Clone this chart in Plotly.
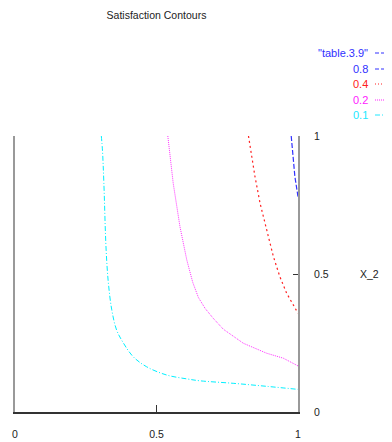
import plotly.graph_objects as go

# Contour level 0.1 (cyan, dash-dot)
x_01 = [0.305, 0.309, 0.314, 0.322, 0.330, 0.342, 0.359, 0.383, 0.418, 0.465, 0.536, 0.607, 0.654, 0.771, 0.889, 1.0]
y_01 = [1.0, 0.949, 0.83, 0.587, 0.467, 0.370, 0.297, 0.250, 0.200, 0.164, 0.134, 0.120, 0.113, 0.104, 0.093, 0.082]

# Contour level 0.2 (magenta, dotted)
x_02 = [0.540, 0.545, 0.559, 0.583, 0.607, 0.628, 0.648, 0.672, 0.700, 0.736, 0.807, 0.889, 0.948, 1.0]
y_02 = [1.0, 0.949, 0.829, 0.671, 0.551, 0.470, 0.415, 0.375, 0.340, 0.300, 0.249, 0.213, 0.195, 0.167]

# Contour level 0.4 (red, dotted)
x_04 = [0.825, 0.833, 0.848, 0.866, 0.889, 0.913, 0.936, 0.960, 1.0]
y_04 = [1.0, 0.949, 0.853, 0.756, 0.659, 0.563, 0.490, 0.430, 0.358]

# Contour level 0.8 (blue, dashed)
x_08 = [0.976, 0.981, 0.989, 1.0]
y_08 = [1.0, 0.949, 0.853, 0.78]

legend_labels = ['"table.3.9"', "0.8", "0.4", "0.2", "0.1"]
legend_colors = ["#3030ff", "#3030ff", "#ff2020", "#ff20ff", "#20e8ff"]
legend_dashes = ["4px,2px", "4px,2px", "1px,2px", "1px,1px", "5px,2px,1px,2px"]

tick_vals = [0, 0.5, 1]
tick_text = ["0", "0.5", "1"]

FONT = "Liberation Sans, Arial, sans-serif"
FS = 10.5

fig = go.Figure()
fig.add_trace(go.Scatter(x=x_01, y=y_01, mode="lines", line_shape="spline",
                         line=dict(color="#00f0ff", width=1, dash="5px,2px,1px,2px"), showlegend=False))
fig.add_trace(go.Scatter(x=x_02, y=y_02, mode="lines",
                         line=dict(color="#ff30ff", width=1, dash="1px,1px"), showlegend=False))
fig.add_trace(go.Scatter(x=x_04, y=y_04, mode="lines",
                         line=dict(color="#ff2020", width=1.2, dash="2px,3px"), showlegend=False))
fig.add_trace(go.Scatter(x=x_08, y=y_08, mode="lines",
                         line=dict(color="#3030ff", width=1.2, dash="5px,2px"), showlegend=False))

# page body has an 8px margin; work in window pixel coordinates
OFF = 8
W, H = 392 - OFF, 442 - OFF
L, R, T, B = 15 - OFF, 94, 136 - OFF, 30
pw, ph = W - L - R, H - T - B

def px_x(px):
    return (px - OFF - L) / pw

def px_y(py):
    return (H - B - (py - OFF)) / ph

annotations = []
shapes = []
ys = [53, 69, 84, 100, 115]
for lab, col, dash, py in zip(legend_labels, legend_colors, legend_dashes, ys):
    annotations.append(dict(x=px_x(370), y=px_y(py), xref="paper", yref="paper", text=lab,
                            showarrow=False, xanchor="right", yanchor="middle",
                            font=dict(family=FONT, size=FS + 0.5, color=col)))
    shapes.append(dict(type="line", xref="paper", yref="paper",
                       x0=px_x(375), x1=px_x(392), y0=px_y(py), y1=px_y(py),
                       line=dict(color=col, width=1, dash=dash)))

annotations.append(dict(x=px_x(369), y=0.5, xref="paper", yref="paper", text="X_2",
                        showarrow=False, xanchor="center", yanchor="middle",
                        font=dict(family=FONT, size=FS, color="#222")))

fig.update_layout(
    width=W, height=H, autosize=False,
    margin=dict(l=L, r=R, t=T, b=B),
    paper_bgcolor="white", plot_bgcolor="white",
    title=dict(text="Satisfaction Contours", x=0.5, xref="paper", xanchor="center",
               y=1 - (15 - OFF) / H, yref="container", yanchor="middle",
               font=dict(family=FONT, size=FS, color="#222")),
    xaxis=dict(range=[0, 1], tickvals=tick_vals, ticktext=tick_text, ticks="inside", ticklen=7,
               tickcolor="#333", showline=True, linecolor="#333", linewidth=1.5,
               showgrid=False, zeroline=False, ticklabelstandoff=12, automargin=False,
               tickfont=dict(family=FONT, size=FS, color="#222")),
    yaxis=dict(range=[0, 1], side="right", tickvals=tick_vals, ticktext=tick_text, ticks="inside",
               ticklen=5, tickcolor="#333", showline=True, linecolor="#999", linewidth=2,
               mirror=True, showgrid=False, zeroline=False, ticklabelstandoff=12, automargin=False,
               tickfont=dict(family=FONT, size=FS, color="#222")),
    annotations=annotations,
    shapes=shapes,
)

fig.write_html("out.html")
